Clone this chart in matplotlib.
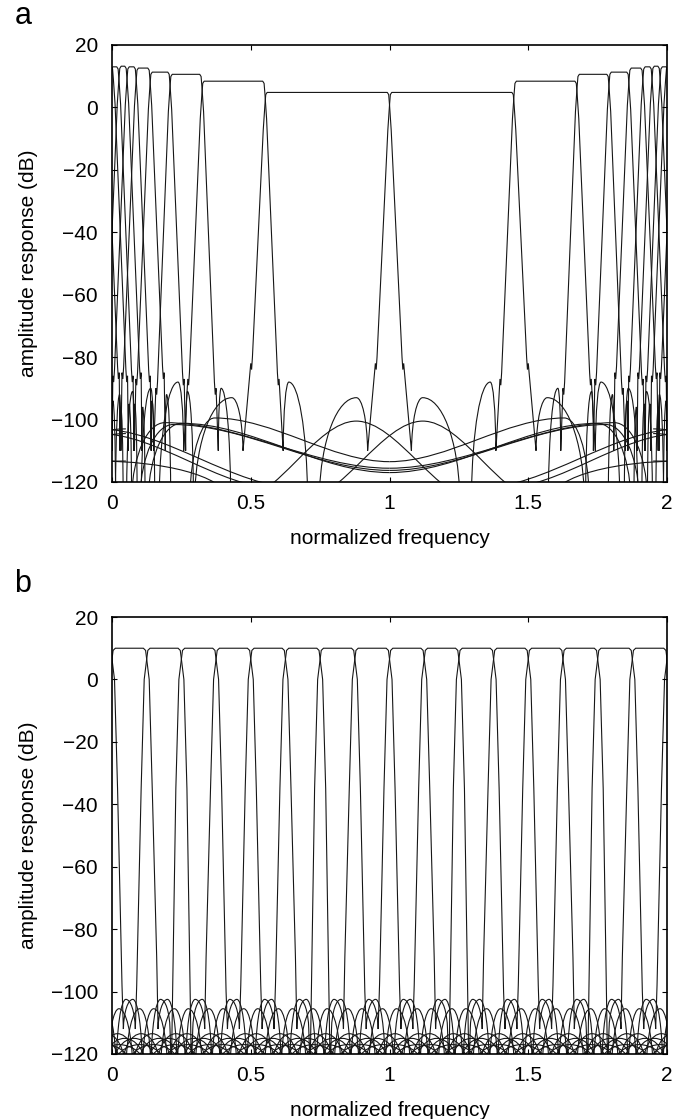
import matplotlib
matplotlib.use("Agg")
import matplotlib.pyplot as plt
from matplotlib.path import Path
from matplotlib.patches import PathPatch

plt.rcParams.update({
    "font.family": ["Liberation Sans", "DejaVu Sans"],
    "font.size": 15,
    "axes.labelsize": 15,
    "xtick.labelsize": 15,
    "ytick.labelsize": 15,
    "xtick.direction": "in",
    "ytick.direction": "in",
    "xtick.top": True,
    "ytick.right": True,
    "xtick.major.size": 3.5,
    "ytick.major.size": 3.5,
    "axes.linewidth": 1.2,
})

LINE = "#161616"
LW = 0.8

# ---------------- panel a: warped bank (lower half, upper half is its mirror about f = 1)
edges_a = [-0.005, 0.025, 0.054, 0.087, 0.137, 0.209, 0.324, 0.551, 1.0]
levels_a = [13.0, 13.2, 13.0, 12.6, 11.3, 10.6, 8.4, 4.8]
foot_a = [-84, -83, -84, -83, -85, -88, -85, -80]     # where the steep edge stops
lobe_a = [-95, -96, -94, -92, -91, -90, -88, -93]     # first stopband lobe

# edge shape, outward offset from band edge, dB relative to the passband level
trans_dx_a = [-0.008, -0.003, 0.0, 0.006]
trans_db_a = [0.0, -0.7, -4.0, -12.0]
trans_kind_a = ["h", "l", "l", "l"]
foot_dx_a = 0.045
wiggle_dx_a = [0.048, 0.051]
wiggle_db_a = [-4.0, -2.0]
near_start_a = 0.052
near_scale_a = [0.06, 0.15, 0.45]   # times band width
near_db_a = [-110, None, -125]

# slow stopband ripples of the narrow bands (freq, dB, knot kind)
far_a = [
    [(0.07, -125, "n"), (0.19, -101.0, "h"), (1.0, -115.6, "h")],
    [(0.10, -125, "n"), (0.22, -101.6, "h"), (1.0, -116.3, "h")],
    [(0.13, -125, "n"), (0.25, -101.2, "h"), (1.0, -117.0, "h")],
    [(0.28, -125, "n"), (0.37, -99.5, "h"), (1.0, -113.5, "h")],
    [(0.45, -126, "h"), (0.88, -100.5, "h"), (1.32, -126, "h")],
    [(-0.05, -103.0, "h"), (0.68, -122.0, "h")],
    [(-0.05, -104.5, "h"), (0.60, -122.0, "h")],
    [(-0.05, -113.3, "h"), (0.42, -125, "n")],
]

# ---------------- panel b: uniform 16 band bank
edges_b = [0.0, 0.125, 0.25, 0.375, 0.5, 0.625, 0.75, 0.875, 1.0,
           1.125, 1.25, 1.375, 1.5, 1.625, 1.75, 1.875, 2.0]
level_b = 10.0
rise_foot_b = [-98, -98, -125, -89, -98, -98, -125, -89,
               -98, -98, -125, -89, -98, -98, -125, -89]
fall_foot_b = [-89, -125, -100, -98, -89, -125, -100, -98,
               -89, -125, -100, -98, -89, -125, -100, -98]
trans_dx_b = [-0.012, -0.004, 0.0, 0.009, 0.02]
trans_db_b = [10.0, 9.3, 6.5, 0.0, -35.0]
trans_kind_b = ["h", "l", "l", "l", "l"]
foot_dx_b = 0.036
lobe_dx_b = [0.041, 0.075, 0.11, 0.15, 0.20, 0.27, 0.34, 0.42, 0.50, 0.60, 0.70]
lobe_db_b = [-112, -102.5, -125, -105.5, -125, -113.5, -125, -115, -125, -117, -125]
lobe_kind_b = ["n", "h", "n", "h", "n", "h", "n", "h", "n", "h", "n"]

xticks = [0, 0.5, 1, 1.5, 2]
xtick_labels = ["0", "0.5", "1", "1.5", "2"]
yticks = [-120, -100, -80, -60, -40, -20, 0, 20]


def knot_path(knots):
    # knots: 'h' = round top, 'n' = null (cusp), 'l' = straight piece
    verts = [knots[0][:2]]
    codes = [Path.MOVETO]
    for (x0, y0, k0), (x1, y1, k1) in zip(knots[:-1], knots[1:]):
        dx = x1 - x0
        if "l" in (k0, k1) or (k0 == "n" and k1 == "n"):
            verts.append((x1, y1))
            codes.append(Path.LINETO)
            continue
        if k0 == "h" and k1 == "h":
            c1, c2 = (x0 + dx / 3, y0), (x1 - dx / 3, y1)
        elif k0 == "n":
            c1, c2 = (x0 + 0.05 * dx, y0 + 0.6 * (y1 - y0)), (x0 + 0.5 * dx, y1)
        else:
            c1, c2 = (x0 + 0.5 * dx, y0), (x1 - 0.05 * dx, y1 + 0.6 * (y0 - y1))
        verts += [c1, c2, (x1, y1)]
        codes += [Path.CURVE4] * 3
    return Path(verts, codes)


def draw(ax, knots):
    # response repeats every 2 in normalized frequency
    for s in (-2.0, 0.0, 2.0):
        p = knot_path([(x + s, y, k) for x, y, k in knots])
        ax.add_patch(PathPatch(p, facecolor="none", edgecolor=LINE, lw=LW))


def side_a(edge, sign, level, foot, lobe, width):
    pts = [(edge + sign * dx, level + db, k)
           for dx, db, k in zip(trans_dx_a, trans_db_a, trans_kind_a)]
    pts.append((edge + sign * foot_dx_a, foot, "l"))
    for dx, db in zip(wiggle_dx_a, wiggle_db_a):
        pts.append((edge + sign * dx, foot + db, "l"))
    for c, db, k in zip(near_scale_a, near_db_a, ["n", "h", "n"]):
        pts.append((edge + sign * (near_start_a + c * width), lobe if db is None else db, k))
    return pts


def side_b(edge, sign, foot):
    pts = [(edge + sign * dx, db, k)
           for dx, db, k in zip(trans_dx_b, trans_db_b, trans_kind_b)]
    pts.append((edge + sign * foot_dx_b, foot, "l"))
    for dx, db, k in zip(lobe_dx_b, lobe_db_b, lobe_kind_b):
        pts.append((edge + sign * dx, db, k))
    return pts


def style(ax):
    ax.set_xlim(0, 2)
    ax.set_ylim(-120, 20)
    ax.set_xticks(xticks)
    ax.set_xticklabels(xtick_labels)
    ax.set_yticks(yticks)
    ax.tick_params(axis="x", pad=9)
    ax.tick_params(axis="y", pad=10)
    ax.set_xlabel("normalized frequency", labelpad=11)
    ax.set_ylabel("amplitude response (dB)", labelpad=9)


fig = plt.figure(figsize=(6.97, 11.19), dpi=100)
ax_a = fig.add_axes([0.1607, 0.5693, 0.7963, 0.3905])
ax_b = fig.add_axes([0.1607, 0.0581, 0.7963, 0.3905])

# panel a
for k in range(len(levels_a)):
    lo, hi = edges_a[k], edges_a[k + 1]
    w = hi - lo
    band = side_a(lo, -1, levels_a[k], foot_a[k], lobe_a[k], w)[::-1] + \
        side_a(hi, 1, levels_a[k], foot_a[k], lobe_a[k], w)
    draw(ax_a, band)
    draw(ax_a, [(2.0 - x, y, kd) for x, y, kd in band])
for curve in far_a:
    draw(ax_a, curve)
    draw(ax_a, [(2.0 - x, y, kd) for x, y, kd in curve])
style(ax_a)

# panel b
for k in range(len(edges_b) - 1):
    band = side_b(edges_b[k], -1, rise_foot_b[k])[::-1] + \
        side_b(edges_b[k + 1], 1, fall_foot_b[k])
    draw(ax_b, band)
style(ax_b)

fig.text(23 / 697, 1 - 16 / 1119, "a", fontsize=22, ha="center", va="center")
fig.text(23 / 697, 1 - 584 / 1119, "b", fontsize=22, ha="center", va="center")

fig.savefig("out.png", dpi=100)
